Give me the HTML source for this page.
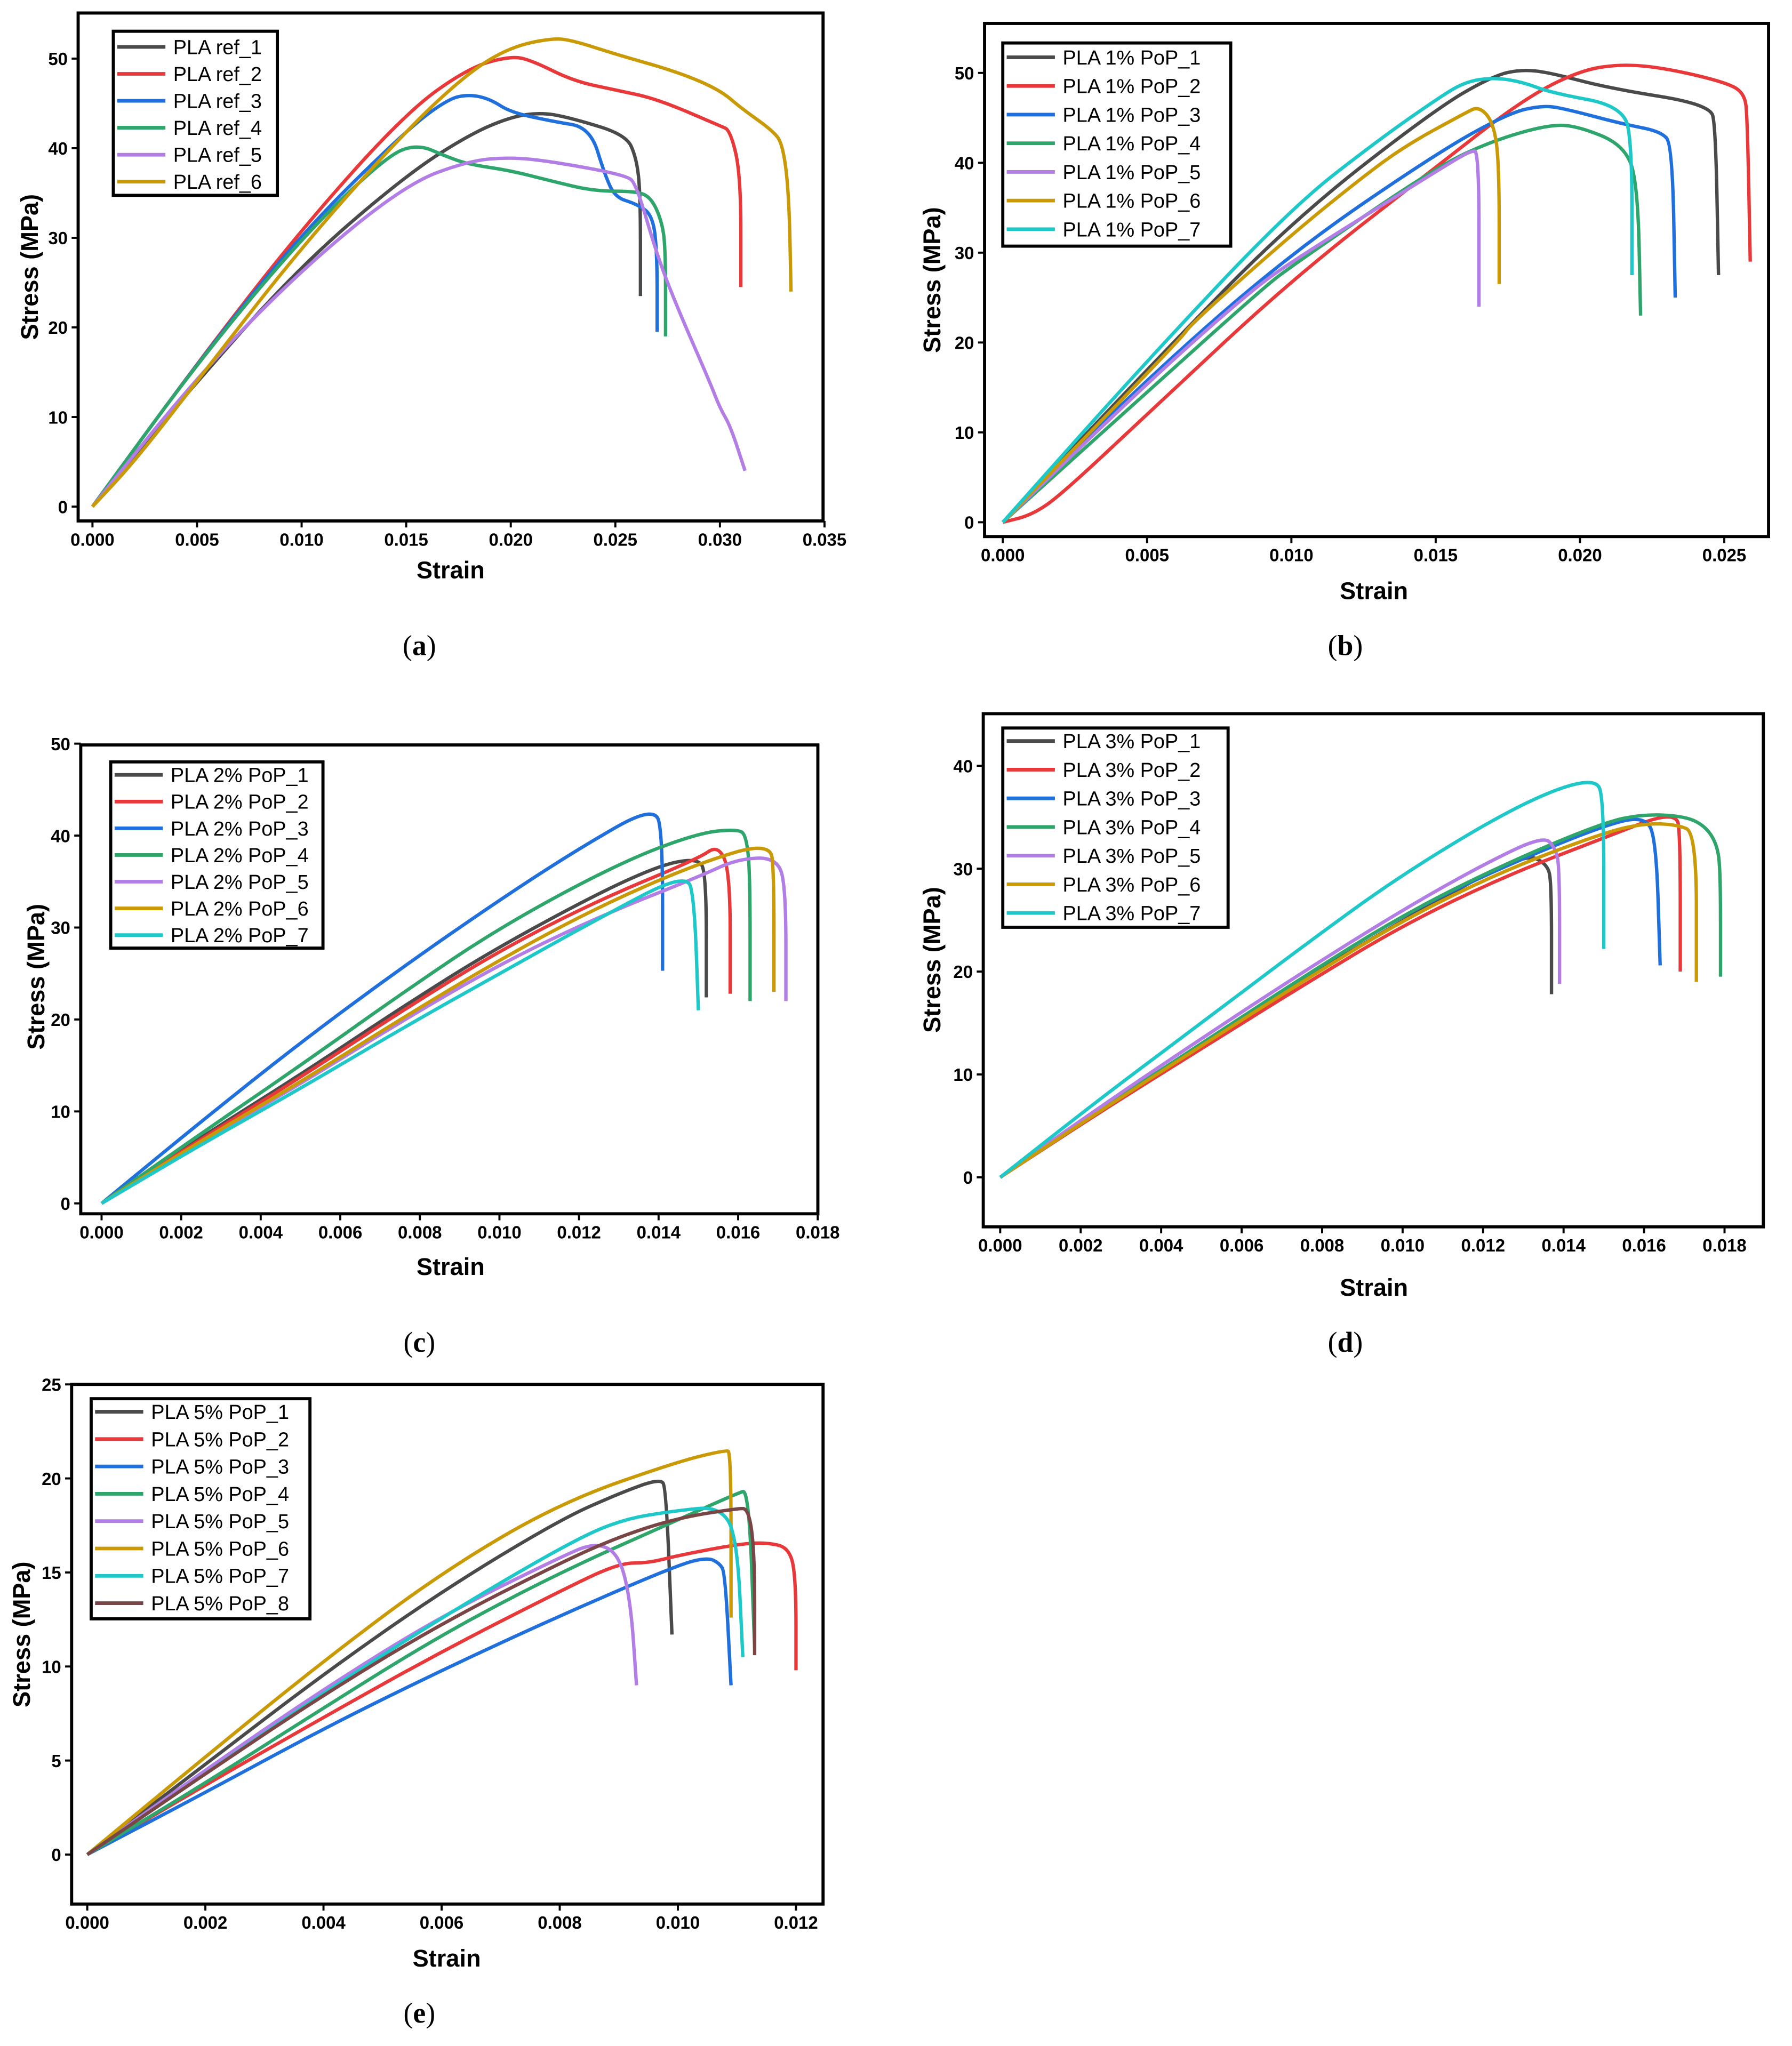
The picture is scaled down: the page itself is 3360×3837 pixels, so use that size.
<!DOCTYPE html>
<html><head><meta charset="utf-8">
<style>
html,body{margin:0;padding:0;background:#fff;}
svg{display:block;}
text{font-family:"Liberation Sans",sans-serif;}
</style></head>
<body>
<svg id="fig" xmlns="http://www.w3.org/2000/svg" width="3360" height="3837" viewBox="0 0 1376 1571" preserveAspectRatio="none"></svg>
<script>
// ---------- data ----------
const colors = ["#4a4a4a","#e8383a","#1f6fdc","#2ea56a","#b27ee6","#c99a06","#1ec8c8","#7a4545"];

const namesA = ["PLA ref_1","PLA ref_2","PLA ref_3","PLA ref_4","PLA ref_5","PLA ref_6"];
const xTicksA = ["0.000","0.005","0.010","0.015","0.020","0.025","0.030","0.035"];
const yTicksA = [0,10,20,30,40,50];
const a1 = [[0,0],[0.005,14],[0.010,27],[0.015,37],[0.018,41.5],[0.020,43.5],[0.0215,44],[0.023,43.3],[0.0255,41.5],[0.026,39],[0.0262,35],[0.0262,23.5]];
const a2 = [[0,0],[0.005,16],[0.010,31],[0.015,44],[0.018,49],[0.020,50.3],[0.021,49.8],[0.023,47.5],[0.025,46.5],[0.027,45.5],[0.030,42.5],[0.0305,42],[0.031,37],[0.031,24.5]];
const a3 = [[0,0],[0.005,16],[0.010,30.5],[0.015,42],[0.017,45.5],[0.018,46],[0.019,45.5],[0.020,44],[0.022,43],[0.0238,42.3],[0.0245,37],[0.025,34.5],[0.026,33.8],[0.0268,32.5],[0.027,28],[0.027,19.5]];
const a4 = [[0,0],[0.005,16],[0.010,30],[0.014,39],[0.0155,40.5],[0.017,39],[0.018,38.2],[0.020,37.5],[0.022,36.3],[0.024,35.2],[0.026,35.2],[0.0267,34.5],[0.0272,32],[0.0274,29],[0.0274,19]];
const a5 = [[0,0],[0.005,14.5],[0.010,26.5],[0.015,36],[0.018,38.6],[0.020,39],[0.022,38.5],[0.0255,37],[0.026,36],[0.027,28],[0.028,22],[0.0295,14],[0.030,11],[0.0305,9],[0.0312,4]];
const a6 = [[0,0],[0.002,5],[0.005,14],[0.010,29],[0.015,42],[0.018,48.5],[0.020,51.3],[0.022,52.3],[0.023,52],[0.025,50.5],[0.028,48.5],[0.030,46.5],[0.031,44.5],[0.0325,42],[0.033,40.5],[0.0333,35],[0.0334,24]];

const namesB = ["PLA 1% PoP_1","PLA 1% PoP_2","PLA 1% PoP_3","PLA 1% PoP_4","PLA 1% PoP_5","PLA 1% PoP_6","PLA 1% PoP_7"];
const xTicksB = ["0.000","0.005","0.010","0.015","0.020","0.025"];
const yTicksB = [0,10,20,30,40,50];
const b1 = [[0,0],[0.005,17],[0.010,33.5],[0.015,46],[0.017,49.7],[0.018,50.4],[0.019,50],[0.021,48.3],[0.0245,46.5],[0.0247,44],[0.0248,27.5]];
const b2 = [[0,0],[0.001,0.8],[0.002,3],[0.005,12],[0.010,27],[0.015,39.5],[0.018,47],[0.020,50.3],[0.0215,51],[0.023,50.5],[0.025,49],[0.0257,47.8],[0.0258,45],[0.0259,29]];
const b3 = [[0,0],[0.005,16],[0.010,30],[0.015,41],[0.0175,45.5],[0.0187,46.4],[0.0195,46],[0.0215,44.3],[0.0228,43.5],[0.0232,42],[0.0233,25]];
const b4 = [[0,0],[0.005,14.5],[0.009,26],[0.010,28.5],[0.015,39.5],[0.017,42.5],[0.019,44.3],[0.020,44],[0.0215,42],[0.022,38],[0.0221,23]];
const b5 = [[0,0],[0.005,15.5],[0.0085,25.5],[0.010,29],[0.014,37],[0.0155,40],[0.0162,41.3],[0.0165,41.3],[0.0165,24]];
const b6 = [[0,0],[0.0062,20.5],[0.0065,22],[0.010,32],[0.0125,38.5],[0.014,42],[0.016,45.5],[0.0165,46.3],[0.017,44.5],[0.0172,40],[0.0172,26.5]];
const b7 = [[0,0],[0.005,18],[0.010,35],[0.013,42.5],[0.015,47],[0.016,49],[0.017,49.5],[0.018,49],[0.019,47.8],[0.0215,46.3],[0.0218,42],[0.0218,27.5]];

const namesC = ["PLA 2% PoP_1","PLA 2% PoP_2","PLA 2% PoP_3","PLA 2% PoP_4","PLA 2% PoP_5","PLA 2% PoP_6","PLA 2% PoP_7"];
const xTicksC = ["0.000","0.002","0.004","0.006","0.008","0.010","0.012","0.014","0.016","0.018"];
const yTicksC = [0,10,20,30,40,50];
const c1 = [[0,0],[0.0025,7.2],[0.005,14],[0.0075,21.2],[0.010,28],[0.0135,36],[0.015,37.8],[0.0152,35.5],[0.0152,22.4]];
const c2 = [[0,0],[0.0025,7],[0.005,13.7],[0.0075,20.8],[0.010,27.5],[0.0125,33],[0.015,37.5],[0.0155,39],[0.0158,36],[0.0158,22.8]];
const c3 = [[0,0],[0.0025,8.9],[0.005,17.5],[0.0075,25.5],[0.010,33],[0.012,38.6],[0.0139,43.3],[0.0141,40],[0.0141,25.3]];
const c4 = [[0,0],[0.0025,7.6],[0.005,15],[0.0075,22.7],[0.010,30],[0.013,37],[0.015,40.3],[0.016,40.7],[0.0162,40],[0.0163,36],[0.0163,22]];
const c5 = [[0,0],[0.0025,6.7],[0.005,13],[0.0075,19.7],[0.010,26],[0.0125,31.2],[0.015,35.5],[0.016,37.5],[0.017,37.6],[0.0172,34],[0.0172,22]];
const c6 = [[0,0],[0.0025,6.8],[0.005,13.2],[0.0075,20],[0.010,26.5],[0.0125,32.3],[0.015,37],[0.0168,39.3],[0.0169,36],[0.0169,23]];
const c7 = [[0,0],[0.0025,6.4],[0.005,12.5],[0.0075,18.9],[0.010,25],[0.0125,31],[0.0147,36],[0.0149,33],[0.015,21]];

const namesD = ["PLA 3% PoP_1","PLA 3% PoP_2","PLA 3% PoP_3","PLA 3% PoP_4","PLA 3% PoP_5","PLA 3% PoP_6","PLA 3% PoP_7"];
const xTicksD = ["0.000","0.002","0.004","0.006","0.008","0.010","0.012","0.014","0.016","0.018"];
const yTicksD = [0,10,20,30,40];
const d1 = [[0,0],[0.0025,6.6],[0.005,13],[0.0075,19.1],[0.010,25],[0.013,31.5],[0.0136,30.5],[0.0137,28.5],[0.0137,17.8]];
const d2 = [[0,0],[0.0025,6.4],[0.005,12.5],[0.0075,18.6],[0.010,24.5],[0.0125,29.2],[0.015,33],[0.0168,35.7],[0.0169,33],[0.0169,20]];
const d3 = [[0,0],[0.0025,6.6],[0.005,13],[0.0075,19.4],[0.010,25.5],[0.0125,30.2],[0.015,34.2],[0.016,35.1],[0.0163,33],[0.0164,20.6]];
const d4 = [[0,0],[0.0025,6.6],[0.005,13],[0.0075,19.4],[0.010,25.5],[0.0125,30.4],[0.015,34.5],[0.016,35.3],[0.017,35.1],[0.0175,34.2],[0.0178,32.5],[0.0179,30],[0.0179,19.5]];
const d5 = [[0,0],[0.0025,6.9],[0.005,13.5],[0.0075,19.9],[0.010,26],[0.012,30.4],[0.0135,33.2],[0.0138,32],[0.0139,30],[0.0139,18.8]];
const d6 = [[0,0],[0.0025,6.5],[0.005,12.8],[0.0075,19],[0.010,25],[0.0125,29.8],[0.015,33.5],[0.016,34.4],[0.0168,34.3],[0.0173,33.5],[0.0173,19]];
const d7 = [[0,0],[0.0025,7.7],[0.005,15],[0.0075,22.4],[0.010,29.5],[0.013,36.5],[0.0148,39],[0.015,36.5],[0.015,22.2]];

const namesE = ["PLA 5% PoP_1","PLA 5% PoP_2","PLA 5% PoP_3","PLA 5% PoP_4","PLA 5% PoP_5","PLA 5% PoP_6","PLA 5% PoP_7","PLA 5% PoP_8"];
const xTicksE = ["0.000","0.002","0.004","0.006","0.008","0.010","0.012"];
const yTicksE = [0,5,10,15,20,25];
const e1 = [[0,0],[0.002,4.8],[0.004,9.6],[0.006,14],[0.008,17.8],[0.009,19.2],[0.0097,20],[0.0098,19.5],[0.0099,11.7]];
const e2 = [[0,0],[0.002,3.7],[0.004,7.3],[0.006,10.8],[0.008,14],[0.009,15.5],[0.0095,15.5],[0.010,15.9],[0.011,16.5],[0.0115,16.6],[0.0119,16.3],[0.0120,14.5],[0.0120,9.8]];
const e3 = [[0,0],[0.002,3.3],[0.004,6.7],[0.006,9.8],[0.008,12.7],[0.010,15.4],[0.0105,15.8],[0.0107,15.5],[0.0108,15],[0.0109,9]];
const e4 = [[0,0],[0.002,3.8],[0.004,7.8],[0.006,11.7],[0.008,15],[0.010,17.8],[0.011,19.2],[0.0112,19.4],[0.0113,11]];
const e5 = [[0,0],[0.002,4.5],[0.004,8.8],[0.006,12.7],[0.008,15.8],[0.0086,16.6],[0.009,16],[0.0092,13.5],[0.0093,9]];
const e6 = [[0,0],[0.002,5.2],[0.004,10.3],[0.006,15],[0.008,18.7],[0.010,20.9],[0.0108,21.5],[0.0109,21.4],[0.0109,12.6]];
const e7 = [[0,0],[0.002,4.3],[0.004,8.6],[0.006,12.6],[0.008,16.3],[0.009,17.8],[0.010,18.3],[0.0107,18.5],[0.011,17],[0.0111,10.5]];
const e8 = [[0,0],[0.002,4.3],[0.004,8.5],[0.006,12.3],[0.008,15.5],[0.009,16.9],[0.010,17.9],[0.011,18.4],[0.0112,18.4],[0.0113,16],[0.0113,10.6]];

// ---------- drawing ----------
const NS = "http://www.w3.org/2000/svg";
const fig = document.getElementById('fig');
function mk(tag, attrs, parent){
  const el = document.createElementNS(NS, tag);
  for (const k in attrs) el.setAttribute(k, attrs[k]);
  (parent||fig).appendChild(el);
  return el;
}
function smoothPath(P){
  const f = v => v.toFixed(2);
  let d = 'M' + f(P[0][0]) + ',' + f(P[0][1]);
  if (P.length < 3) { for (let i=1;i<P.length;i++) d += ' L' + f(P[i][0]) + ',' + f(P[i][1]); return d; }
  const mid = (p,q) => [(p[0]+q[0])/2,(p[1]+q[1])/2];
  let m = mid(P[0],P[1]);
  d += ' L' + f(m[0]) + ',' + f(m[1]);
  for (let i=1;i<P.length-1;i++){
    const m2 = mid(P[i],P[i+1]);
    d += ' Q' + f(P[i][0]) + ',' + f(P[i][1]) + ' ' + f(m2[0]) + ',' + f(m2[1]);
  }
  const L = P[P.length-1];
  d += ' L' + f(L[0]) + ',' + f(L[1]);
  return d;
}

function panel(id, cfg, series, names, xTicks, yTicks){
  const g = mk('g', {});
  
  
  const sx = v => cfg.x0 + v * cfg.kx;
  const sy = v => cfg.y0 - v * cfg.ky;
  series.forEach((s, i) => {
    const P = s.map(p => [sx(p[0]), sy(p[1])]);
    const pl = mk('path', {d: smoothPath(P), fill: 'none', stroke: colors[i], 'stroke-width': 2.6, 'stroke-linejoin': 'round', 'stroke-linecap': 'butt'}, g);
    
    
  });
  const fr = mk('rect', {x: cfg.L, y: cfg.T, width: cfg.R - cfg.L, height: cfg.B - cfg.T, fill: 'none', stroke: '#000', 'stroke-width': 2.4}, g);
  
  
  xTicks.forEach(t => {
    const x = sx(parseFloat(t));
    mk('line', {x1: x, x2: x, y1: cfg.B, y2: cfg.B + 5, stroke: '#000', 'stroke-width': 1.6}, g);
    const tx = mk('text', {x: x, y: cfg.B + 19, 'font-size': 13.5, 'font-weight': 'bold', 'text-anchor': 'middle', fill: '#000'}, g);
    
    
    tx.textContent = t;
  });
  yTicks.forEach(t => {
    const y = sy(t);
    mk('line', {x1: cfg.L - 5, x2: cfg.L, y1: y, y2: y, stroke: '#000', 'stroke-width': 1.6}, g);
    const ty = mk('text', {x: cfg.L - 8, y: y + 5, 'font-size': 13.5, 'font-weight': 'bold', 'text-anchor': 'end', fill: '#000'}, g);
    
    
    ty.textContent = t;
  });
  const xt = mk('text', {x: cfg.xtx, y: cfg.xty, 'font-size': 18.5, 'font-weight': 'bold', 'text-anchor': 'middle'}, g);
  
  
  xt.textContent = 'Strain';
  const yt = mk('text', {x: 0, y: 0, 'font-size': 18.5, 'font-weight': 'bold', 'text-anchor': 'middle', transform: 'translate(' + cfg.ytx + ',' + cfg.yty + ') rotate(-90)'}, g);
  
  
  yt.textContent = 'Stress (MPa)';
  const lg = mk('g', {}, g);
  
  
  mk('rect', {x: cfg.lx, y: cfg.ly, width: cfg.lw, height: cfg.lh, fill: '#fff', stroke: '#000', 'stroke-width': 2.4}, lg);
  names.forEach((n, i) => {
    const y = cfg.ly + cfg.lr0 + i * cfg.lrs;
    const ln = mk('line', {x1: cfg.lx + 3, x2: cfg.lx + 40, y1: y, y2: y, stroke: colors[i], 'stroke-width': 2.8}, lg);
    
    
    const tx = mk('text', {x: cfg.lx + 46, y: y + 5.5, 'font-size': 15.5, fill: '#000'}, lg);
    
    
    tx.textContent = n;
  });
  const pl = mk('text', {x: cfg.plx, y: cfg.ply, 'font-size': 22, 'text-anchor': 'middle', style: 'font-family:"Liberation Serif",serif'}, g);
  
  
  pl.innerHTML = '(<tspan font-weight="bold">' + id + '</tspan>)';
}

panel('a', {L:60,R:632,T:10,B:400,x0:71,kx:80.3/0.005,y0:389,ky:6.88,xtx:346,xty:444,ytx:29,yty:205,
  lx:87,ly:24,lw:126,lh:126,lr0:12,lrs:20.7,plx:322,ply:503},
  [a1,a2,a3,a4,a5,a6], namesA, xTicksA, yTicksA);
panel('b', {L:756,R:1358,T:18,B:412,x0:770,kx:110.8/0.005,y0:401,ky:6.9,xtx:1055,xty:460,ytx:722,yty:215,
  lx:770,ly:33,lw:175,lh:156,lr0:11,lrs:22,plx:1033,ply:503},
  [b1,b2,b3,b4,b5,b6,b7], namesB, xTicksB, yTicksB);
panel('c', {L:62,R:628,T:572,B:932,x0:78,kx:61.1/0.002,y0:924,ky:7.06,xtx:346,xty:979,ytx:34,yty:750,
  lx:85,ly:585,lw:163,lh:143,lr0:10,lrs:20.5,plx:322,ply:1038},
  [c1,c2,c3,c4,c5,c6,c7], namesC, xTicksC, yTicksC);
panel('d', {L:755,R:1354,T:548,B:942,x0:768,kx:61.8/0.002,y0:904,ky:7.9,xtx:1055,xty:995,ytx:722,yty:737,
  lx:770,ly:559,lw:173,lh:153,lr0:10,lrs:22,plx:1033,ply:1038},
  [d1,d2,d3,d4,d5,d6,d7], namesD, xTicksD, yTicksD);
panel('e', {L:55,R:632,T:1063,B:1462,x0:67,kx:90.7/0.002,y0:1424,ky:14.44,xtx:343,xty:1510,ytx:23,yty:1255,
  lx:70,ly:1074,lw:168,lh:169,lr0:10,lrs:21,plx:322,ply:1553},
  [e1,e2,e3,e4,e5,e6,e7,e8], namesE, xTicksE, yTicksE);
</script>
</body></html>
